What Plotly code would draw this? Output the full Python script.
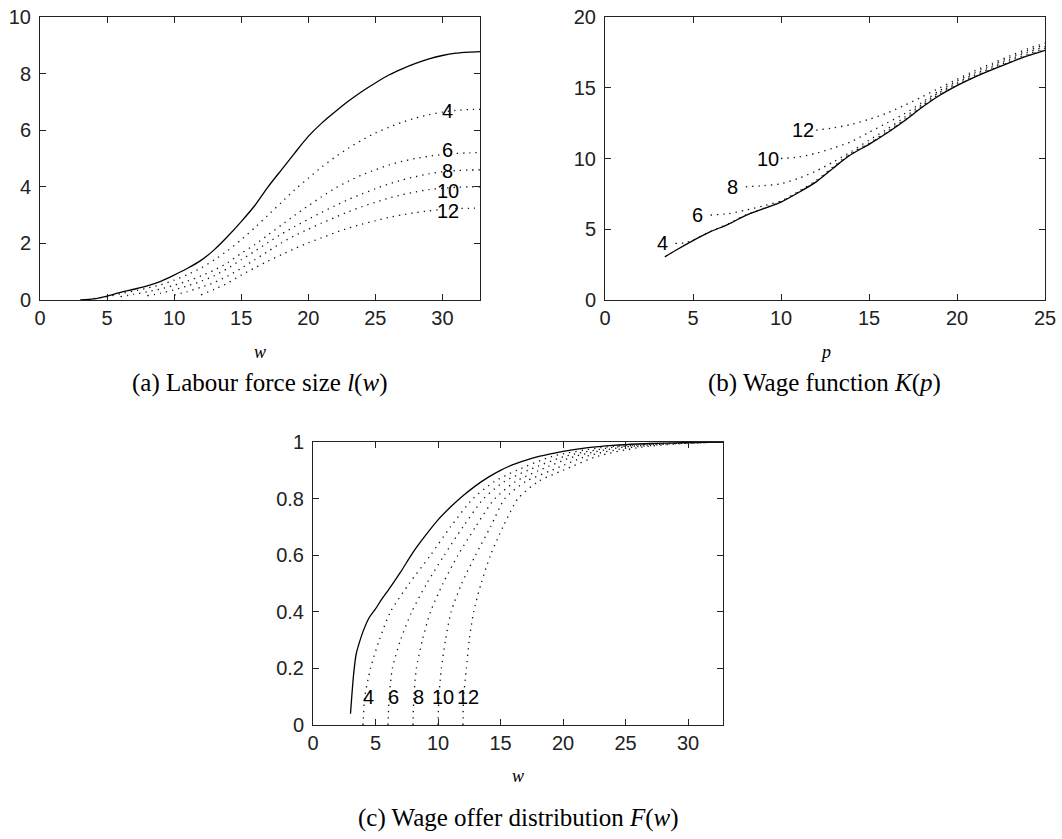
import numpy as np
import plotly.graph_objects as go

# ---------------- Panel (a): Labour force size l(w) ----------------
a_w_solid = [3, 4, 5, 6, 7, 8, 9, 10, 11, 12, 13, 14, 15, 16, 17, 18, 19, 20, 21, 22, 23, 24, 25, 26, 27, 28, 29, 30, 31, 32, 32.8]
a_l_solid = [0.0, 0.04, 0.14, 0.27, 0.38, 0.5, 0.66, 0.88, 1.12, 1.4, 1.78, 2.25, 2.77, 3.33, 4.0, 4.6, 5.2, 5.78, 6.25, 6.65, 7.03, 7.37, 7.67, 7.95, 8.17, 8.36, 8.52, 8.64, 8.72, 8.76, 8.78]

a_w4 = [4, 5, 6, 7, 8, 9, 10, 11, 12, 13, 14, 15, 16, 17, 18, 19, 20, 21, 22, 23, 24, 25, 26, 27, 28, 29, 30, 31, 32, 32.8]
a_l4 = [0.05, 0.11, 0.22, 0.32, 0.42, 0.54, 0.7, 0.9, 1.13, 1.42, 1.75, 2.13, 2.55, 3.0, 3.45, 3.9, 4.3, 4.7, 5.05, 5.37, 5.65, 5.9, 6.1, 6.28, 6.43, 6.55, 6.64, 6.7, 6.73, 6.74]

a_w6 = [6, 7, 8, 9, 10, 11, 12, 13, 14, 15, 16, 17, 18, 19, 20, 21, 22, 23, 24, 25, 26, 27, 28, 29, 30, 31, 32, 32.8]
a_l6 = [0.12, 0.2, 0.29, 0.39, 0.52, 0.67, 0.85, 1.06, 1.32, 1.65, 1.95, 2.3, 2.65, 3.0, 3.33, 3.65, 3.95, 4.2, 4.42, 4.6, 4.77, 4.9, 5.0, 5.08, 5.14, 5.18, 5.2, 5.21]

a_w8 = [8, 9, 10, 11, 12, 13, 14, 15, 16, 17, 18, 19, 20, 21, 22, 23, 24, 25, 26, 27, 28, 29, 30, 31, 32, 32.8]
a_l8 = [0.15, 0.24, 0.36, 0.5, 0.66, 0.86, 1.12, 1.42, 1.72, 2.03, 2.33, 2.6, 2.85, 3.1, 3.33, 3.55, 3.75, 3.93, 4.1, 4.24, 4.36, 4.46, 4.53, 4.57, 4.59, 4.6]

a_w10 = [10, 11, 12, 13, 14, 15, 16, 17, 18, 19, 20, 21, 22, 23, 24, 25, 26, 27, 28, 29, 30, 31, 32, 32.8]
a_l10 = [0.17, 0.3, 0.45, 0.62, 0.85, 1.12, 1.42, 1.72, 2.02, 2.28, 2.5, 2.72, 2.92, 3.12, 3.3, 3.45, 3.6, 3.72, 3.82, 3.9, 3.95, 3.98, 4.0, 4.0]

a_w12 = [12, 13, 14, 15, 16, 17, 18, 19, 20, 21, 22, 23, 24, 25, 26, 27, 28, 29, 30, 31, 32, 32.8]
a_l12 = [0.18, 0.38, 0.6, 0.88, 1.13, 1.38, 1.6, 1.82, 2.02, 2.2, 2.38, 2.54, 2.68, 2.8, 2.92, 3.01, 3.09, 3.15, 3.2, 3.23, 3.24, 3.25]

a_label_w = 30.4

# ---------------- Panel (b): Wage function K(p) ----------------
b_p_solid = [3.4, 4, 5, 6, 7, 8, 9, 10, 11, 12, 13, 13.4, 14, 15, 16, 17, 18, 19, 20, 21, 22, 23, 24, 25]
b_k_solid = [3.05, 3.5, 4.2, 4.83, 5.35, 5.98, 6.45, 6.92, 7.6, 8.35, 9.35, 9.75, 10.3, 11.0, 11.78, 12.65, 13.6, 14.45, 15.15, 15.75, 16.28, 16.78, 17.25, 17.65]

b_p4 = [4, 4.5, 5, 6, 7, 8, 9, 10, 11, 12, 13, 13.4, 14, 15, 16, 17, 18, 19, 20, 21, 22, 23, 24, 25]
b_k4 = [4.0, 4.03, 4.24, 4.86, 5.38, 6.01, 6.48, 6.95, 7.63, 8.38, 9.38, 9.78, 10.33, 11.03, 11.81, 12.68, 13.63, 14.48, 15.18, 15.78, 16.31, 16.81, 17.28, 17.68]

b_p6 = [6, 7, 8, 9, 10, 11, 12, 13, 13.4, 14, 15, 16, 17, 18, 19, 20, 21, 22, 23, 24, 25]
b_k6 = [6.0, 6.1, 6.35, 6.65, 7.0, 7.68, 8.45, 9.45, 9.85, 10.4, 11.1, 11.88, 12.75, 13.7, 14.56, 15.26, 15.86, 16.39, 16.9, 17.37, 17.78]

b_p8 = [8, 9, 10, 11, 12, 13, 14, 15, 16, 17, 18, 19, 20, 21, 22, 23, 24, 25]
b_k8 = [8.0, 8.08, 8.22, 8.6, 9.12, 9.78, 10.5, 11.3, 12.05, 12.9, 13.83, 14.67, 15.37, 15.97, 16.5, 17.01, 17.5, 17.91]

b_p10 = [10, 11, 12, 13, 14, 15, 16, 17, 18, 19, 20, 21, 22, 23, 24, 25]
b_k10 = [10.0, 10.1, 10.37, 10.75, 11.2, 11.85, 12.5, 13.15, 13.95, 14.79, 15.48, 16.08, 16.61, 17.13, 17.62, 18.03]

b_p12 = [12, 13, 14, 15, 16, 17, 18, 19, 20, 21, 22, 23, 24, 25]
b_k12 = [12.0, 12.17, 12.41, 12.77, 13.2, 13.75, 14.35, 14.98, 15.6, 16.2, 16.73, 17.25, 17.75, 18.15]

# ---------------- Panel (c): Wage offer distribution F(w) ----------------
c_w_solid = [3.0, 3.1, 3.25, 3.45, 3.7, 4.0, 4.5, 5.0, 5.5, 6.0, 7.0, 8.0, 9.0, 10.0, 11.0, 12.0, 13.0, 14.0, 15.0, 16.0, 17.0, 18.0, 19.0, 20.0, 22.0, 24.0, 26.0, 28.0, 30.0, 32.8]
c_f_solid = [0.04, 0.1, 0.18, 0.25, 0.29, 0.33, 0.38, 0.41, 0.445, 0.475, 0.54, 0.61, 0.67, 0.725, 0.77, 0.81, 0.845, 0.875, 0.9, 0.92, 0.935, 0.948, 0.958, 0.967, 0.98, 0.988, 0.993, 0.996, 0.998, 1.0]

c_f_levels = [0.0, 0.1, 0.2, 0.3, 0.4, 0.5, 0.6, 0.7, 0.8, 0.86, 0.9, 0.95, 0.98, 0.993, 1.0]
c_w4 = [4.0, 4.15, 4.6, 5.3, 6.2, 7.7, 9.4, 11.0, 12.8, 14.5, 16.3, 19.2, 23.0, 27.0, 32.8]
c_w6 = [6.0, 6.1, 6.35, 7.0, 7.9, 9.1, 10.5, 12.0, 13.65, 15.3, 17.2, 20.2, 23.8, 27.5, 32.8]
c_w8 = [8.0, 8.07, 8.27, 8.75, 9.4, 10.4, 11.6, 13.0, 14.55, 16.2, 18.1, 21.0, 24.5, 28.0, 32.8]
c_w10 = [10.0, 10.07, 10.27, 10.6, 11.05, 11.9, 13.0, 14.2, 15.35, 17.0, 19.1, 21.9, 25.3, 28.5, 32.8]
c_w12 = [12.0, 12.05, 12.27, 12.5, 12.85, 13.45, 14.2, 15.2, 16.4, 18.0, 20.0, 22.8, 26.0, 29.0, 32.8]
c_label_f = 0.1

curve_ids = [4, 6, 8, 10, 12]

# ---------------- styles ----------------
TICKFONT = dict(family="Liberation Sans, Arial, sans-serif", size=20, color="#222222")
LABELFONT = dict(family="Liberation Sans, Arial, sans-serif", size=20, color="#000000")
SERIF = "Liberation Serif, Times New Roman, serif"
SOLID = dict(color="#000000", width=1.3, shape="spline", smoothing=0.7)
DOTTED = dict(color="#111111", width=1.3, dash="1.3px,5px", shape="spline", smoothing=0.7)
A_LABEL_YSHIFT = [0, 4, 0, -3, -2]

fig = go.Figure()

def add(x, y, xa, ya, line):
    fig.add_trace(go.Scatter(x=x, y=y, mode="lines", line=line, xaxis=xa, yaxis=ya,
                             showlegend=False, hoverinfo="skip"))

add(a_w_solid, a_l_solid, "x", "y", SOLID)
a_dotted = [(a_w4, a_l4), (a_w6, a_l6), (a_w8, a_l8), (a_w10, a_l10), (a_w12, a_l12)]
for w, l in a_dotted:
    add(w, l, "x", "y", DOTTED)

add(b_p_solid, b_k_solid, "x2", "y2", SOLID)
b_dotted = [(b_p4, b_k4), (b_p6, b_k6), (b_p8, b_k8), (b_p10, b_k10), (b_p12, b_k12)]
for p, k in b_dotted:
    add(p, k, "x2", "y2", DOTTED)

add(c_w_solid, c_f_solid, "x3", "y3", SOLID)
c_dotted = [c_w4, c_w6, c_w8, c_w10, c_w12]
for w in c_dotted:
    add(w, c_f_levels, "x3", "y3", DOTTED)

annotations = []
for m, (w, l), ys in zip(curve_ids, a_dotted, A_LABEL_YSHIFT):
    annotations.append(dict(x=a_label_w, y=float(np.interp(a_label_w, w, l)), xref="x", yref="y",
                            text=str(m), showarrow=False, font=LABELFONT,
                            xanchor="center", yanchor="middle", yshift=ys))
for m, (p, k) in zip(curve_ids, b_dotted):
    annotations.append(dict(x=p[0], y=k[0], xref="x2", yref="y2", text=str(m), showarrow=False,
                            font=LABELFONT, xanchor="center", yanchor="middle", xshift=-13))
for m, w in zip(curve_ids, c_dotted):
    annotations.append(dict(x=w[0], y=c_label_f, xref="x3", yref="y3", text=str(m), showarrow=False,
                            font=LABELFONT, xanchor="center", yanchor="middle", xshift=5))

W, H = 1062, 839

def px(x):
    return x / W

def py(y):
    return 1 - y / H

def ptext(text, x, y, size):
    annotations.append(dict(x=px(x), y=py(y), xref="paper", yref="paper", text=text, showarrow=False,
                            font=dict(family=SERIF, size=size, color="#000000"),
                            xanchor="center", yanchor="middle"))

ptext("<i>w</i>", 260, 352, 18)
ptext("<i>p</i>", 825, 352, 18)
ptext("<i>w</i>", 518, 776, 18)
ptext("(a) Labour force size <i>l</i>(<i>w</i>)", 259, 383, 25)
ptext("(b) Wage function <i>K</i>(<i>p</i>)", 824, 383, 25)
ptext("(c) Wage offer distribution <i>F</i>(<i>w</i>)", 518, 818, 25)

def axis(domain, rng, dtick, anchor, is_x):
    return dict(domain=domain, range=rng, dtick=dtick, tick0=0, anchor=anchor,
                showline=True, linecolor="#222222", linewidth=1, mirror="allticks",
                ticks="inside", ticklen=6, tickwidth=1, tickcolor="#222222",
                showgrid=False, zeroline=False, tickfont=TICKFONT, fixedrange=True,
                automargin=False, ticklabeloverflow="allow",
                ticklabelstandoff=0 if is_x else 4)

dom_a_y = [py(300), py(17)]
dom_c_y = [py(725), py(442)]

fig.update_layout(
    width=W, height=H,
    margin=dict(l=0, r=0, t=0, b=0),
    paper_bgcolor="white", plot_bgcolor="white",
    xaxis=axis([px(40), px(480)], [0, 32.8], 5, "y", True),
    yaxis=axis(dom_a_y, [0, 10], 2, "x", False),
    xaxis2=axis([px(605), px(1045)], [0, 25], 5, "y2", True),
    yaxis2=axis(dom_a_y, [0, 20], 5, "x2", False),
    xaxis3=axis([px(313), px(723)], [0, 32.8], 5, "y3", True),
    yaxis3=axis(dom_c_y, [0, 1], 0.2, "x3", False),
    annotations=annotations,
)

# let the figure fill the window exactly (no default 8px page margin), no mode bar
fig.write_html("out.html",
               config={"displayModeBar": False, "staticPlot": True},
               post_script="document.body.style.margin='0px';document.body.style.overflow='hidden';")
